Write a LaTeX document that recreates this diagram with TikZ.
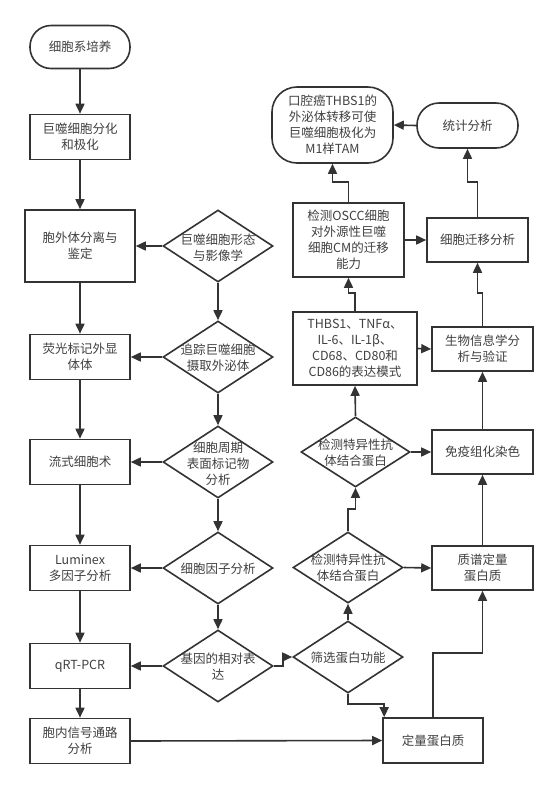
\documentclass[tikz,border=0pt]{standalone}
\usepackage{fontspec}
\setmainfont{Noto Sans CJK SC}
\usetikzlibrary{shapes.geometric,arrows.meta}
\definecolor{lc}{HTML}{333333}
\definecolor{tc}{HTML}{404040}
\begin{document}
\begin{tikzpicture}[x=1pt,y=-1pt,
  every node/.style={font=\fontsize{12.5}{16}\selectfont, text=tc, align=center},
  box/.style={draw=lc, line width=1.6pt, inner sep=0pt, minimum width=100pt, minimum height=45pt},
  rbox/.style={box, rounded corners=21pt},
  dia/.style={draw=lc, line width=1.6pt, diamond, inner sep=0pt, minimum width=110pt, minimum height=72pt},
  txt/.style={inner sep=0pt},
  arr/.style={draw=lc, line width=1.6pt, -{Triangle[length=10pt,width=9pt]}}
]
\fill[white] (0,0) rectangle (557,788);
\useasboundingbox (0,0) rectangle (557,788);
% left column
\node[rbox, minimum height=43pt] (n1) at (80,47) {细胞系培养};
\node[box] (n2) at (80,137) {巨噬细胞分化\\和极化};
\node[box, minimum width=110pt, minimum height=72pt] (n3) at (80,246) {胞外体分离与\\鉴定};
\node[box] (n4) at (80,357) {荧光标记外显\\体体};
\node[box] (n5) at (80,462) {流式细胞术};
\node[box] (n6) at (80,568) {Luminex\\多因子分析};
\node[box] (n7) at (80,666) {qRT-PCR};
\node[box] (n8) at (80,741) {胞内信号通路\\分析};
% middle diamonds
\node[dia] (d1) at (218,246) {};
\node[txt] (d1t) at (218,248) {巨噬细胞形态\\与影像学};
\node[dia] (d2) at (218,357) {};
\node[txt] (d2t) at (218,358) {追踪巨噬细胞\\摄取外泌体};
\node[dia] (d3) at (218,462) {};
\node[txt] (d3t) at (218,464) {细胞周期\\表面标记物\\分析};
\node[dia] (d4) at (218,568) {};
\node[txt] (d4t) at (218,569) {细胞因子分析};
\node[dia] (d5) at (218,666) {};
\node[txt] (d5t) at (218,667) {基因的相对表\\达};
% right part
\node[box, minimum width=121pt, minimum height=76pt, rounded corners=25pt] (r1) at (332.5,125) {口腔癌THBS1的\\外泌体转移可使\\巨噬细胞极化为\\M1样TAM};
\node[rbox, minimum width=101pt, minimum height=45pt, rounded corners=22pt] (r2) at (467.5,125.5) {统计分析};
\node[box, minimum width=111pt, minimum height=74pt] (r3) at (348.5,240) {检测OSCC细胞\\对外源性巨噬\\细胞CM的迁移\\能力};
\node[box, minimum width=101pt, minimum height=44pt] (r4) at (477.5,240) {细胞迁移分析};
\node[box, minimum width=124pt, minimum height=73pt] (r5) at (355,348.5) {THBS1、TNFα、\\IL-6、IL-1β、\\CD68、CD80和\\CD86的表达模式};
\node[box, minimum width=101pt, minimum height=44pt] (r6) at (482.5,349) {生物信息学分\\析与验证};
\node[dia, minimum width=109pt, minimum height=70pt] (r7) at (355.5,452) {};
\node[txt] (r7t) at (355.5,453) {检测特异性抗\\体结合蛋白};
\node[box, minimum width=101pt, minimum height=44pt] (r8) at (482.5,452) {免疫组化染色};
\node[dia, minimum width=110pt, minimum height=71pt] (r9) at (348,567.5) {};
\node[txt] (r9t) at (348,568) {检测特异性抗\\体结合蛋白};
\node[box, minimum width=101pt, minimum height=44pt] (r10) at (482.5,568) {质谱定量\\蛋白质};
\node[dia] (r11) at (348,657) {};
\node[txt] (r11t) at (348,658) {筛选蛋白功能};
\node[box] (r12) at (433,740.5) {定量蛋白质};
% left column arrows
\draw[arr] (n1) -- (n2);
\draw[arr] (n2) -- (n3);
\draw[arr] (n3) -- (n4);
\draw[arr] (n4) -- (n5);
\draw[arr] (n5) -- (n6);
\draw[arr] (n6) -- (n7);
\draw[arr] (n7) -- (n8);
% diamonds
\draw[arr] (d1.west) -- (n3.east);
\draw[arr] (d2.west) -- (n4.east);
\draw[arr] (d3.west) -- (n5.east);
\draw[arr] (d4.west) -- (n6.east);
\draw[arr] (d5.west) -- (n7.east);
\draw[arr] (d1.south) -- (d2.north);
\draw[arr] (d2.south) -- (d3.north);
\draw[arr] (d3.south) -- (d4.north);
\draw[arr] (d4.south) -- (d5.north);
% right connectors
\draw[arr] (d5.east) -- ++(9,0) |- (r11.west);
\draw[arr] (n8.east) -- (r12.west);
\draw[arr] (r11.south) -- ++(0,10) -| ([xshift=2pt]r12.north west);
\draw[arr] (r11.north) -- (r9.south);
\draw[arr] (r12.north) -- ++(0,-64) -| (r10.south);
\draw[arr] (r9.east) -- (r10.west);
\draw[arr] (r9.north) -- ++(0,-22) -| (r7.south);
\draw[arr] (r10.north) -- (r8.south);
\draw[arr] (r7.east) -- (r8.west);
\draw[arr] (r7.north) -- (r5.south);
\draw[arr] (r8.north) -- (r6.south);
\draw[arr] (r5.east) -- (r6.west);
\draw[arr] (r5.north) -- ++(0,-18) -| (r3.south);
\draw[arr] (r6.north) -- ++(0,-33) -| (r4.south);
\draw[arr] (r3.east) -- (r4.west);
\draw[arr] (r3.north) -- ++(0,-20) -| (r1.south);
\draw[arr] (r4.north) -- ++(0,-35) -| (r2.south);
\draw[arr] (r2.west) -- (r1.east);
\end{tikzpicture}
\end{document}
